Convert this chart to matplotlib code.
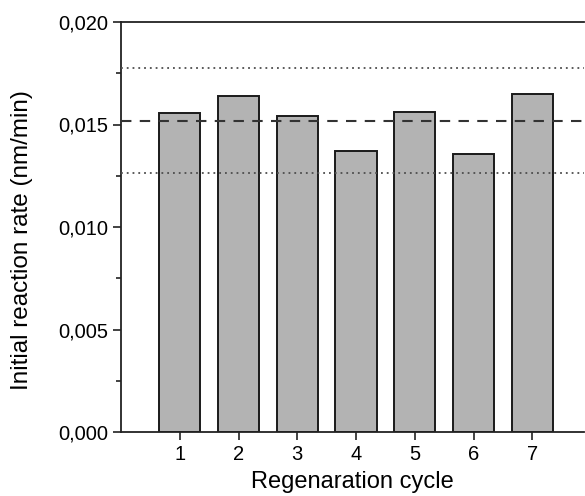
import numpy as np
import matplotlib
matplotlib.use("Agg")
import matplotlib.pyplot as plt
from matplotlib.ticker import FuncFormatter, MultipleLocator

#----------
# Data
cycles = [1, 2, 3, 4, 5, 6, 7]
rates = [0.01555, 0.01639, 0.01542, 0.01370, 0.01560, 0.01355, 0.01648]
mean_rate = 0.01518
upper_band = 0.01776
lower_band = 0.01261
#----------

plt.rcParams['font.family'] = ['Liberation Sans', 'DejaVu Sans']

fig = plt.figure(figsize=(5.85, 4.96), dpi=100)
ax = fig.add_axes([121/585, 1 - 432/496, 463/585, 410/496])

ax.bar(cycles, rates, width=0.7, color='#b3b3b3', edgecolor='#1a1a1a', linewidth=1.4, zorder=2)

ax.axhline(mean_rate, color='#333333', linestyle=(0, (5, 4)), linewidth=1.5, zorder=3)
ax.axhline(upper_band, color='#4d4d4d', linestyle=(0, (1, 2.2)), linewidth=1.3, zorder=3)
ax.axhline(lower_band, color='#4d4d4d', linestyle=(0, (1, 2.2)), linewidth=1.3, zorder=3)

ax.set_xlim(0, 7.88)
ax.set_ylim(0, 0.020)
ax.set_xticks(cycles)
ax.yaxis.set_major_locator(MultipleLocator(0.005))
ax.yaxis.set_minor_locator(MultipleLocator(0.0025))
ax.yaxis.set_major_formatter(FuncFormatter(lambda v, p: f"{v:.3f}".replace('.', ',')))

ax.tick_params(axis='both', which='major', direction='out', length=6, width=1.2, labelsize=14.5, color='#222222')
ax.tick_params(axis='y', which='minor', direction='out', length=3.5, width=1.2, color='#222222')

for side in ['left', 'bottom', 'top']:
    ax.spines[side].set_linewidth(1.3)
    ax.spines[side].set_color('#222222')
ax.spines['right'].set_visible(False)

ax.set_xlabel('Regenaration cycle', fontsize=17, labelpad=5)
ax.set_ylabel('Initial reaction rate (nm/min)', fontsize=17.5)
ax.yaxis.set_label_coords(-0.19, 0.468)

fig.savefig('out.png', dpi=100)
